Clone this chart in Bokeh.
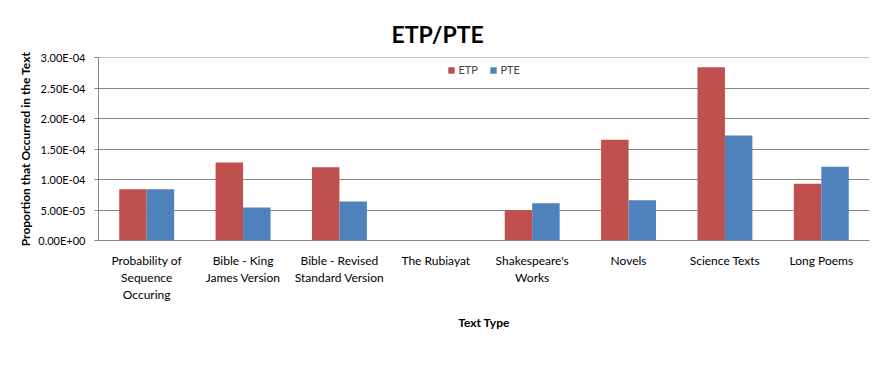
from bokeh.plotting import figure
from bokeh.models import (ColumnDataSource, FactorRange, Range1d, CustomJSTickFormatter,
                          SingleIntervalTicker, Legend, LegendItem, CategoricalAxis)
from bokeh.transform import dodge
from bokeh.embed import file_html
from bokeh.resources import INLINE

categories = ["Probability of Sequence Occuring", "Bible - King James Version",
              "Bible - Revised Standard Version", "The Rubiayat", "Shakespeare's Works",
              "Novels", "Science Texts", "Long Poems"]
# tick labels, one list per printed line
label_line1 = ["Probability of", "Bible - King", "Bible - Revised", "The Rubiayat",
               "Shakespeare's", "Novels", "Science Texts", "Long Poems"]
label_line2 = ["Sequence", "James Version", "Standard Version", "", "Works", "", "", ""]
label_line3 = ["Occuring", "", "", "", "", "", "", ""]
etp = [8.4e-5, 1.28e-4, 1.20e-4, 0.0, 5.0e-5, 1.65e-4, 2.84e-4, 9.3e-5]
pte = [8.4e-5, 5.4e-5, 6.4e-5, 0.0, 6.1e-5, 6.6e-5, 1.72e-4, 1.21e-4]

FONT = "Lato"
RED = "#C0504D"
BLUE = "#4F81BD"
GRID = "#868686"

src = ColumnDataSource(dict(cat=categories, etp=etp, pte=pte))

p = figure(x_range=FactorRange(*categories), y_range=Range1d(0, 3.00001e-4),
           frame_width=771, frame_height=183, title="ETP/PTE",
           min_border_left=98, min_border_right=10, min_border_top=57, min_border_bottom=4,
           output_backend="svg", toolbar_location=None)

r1 = p.vbar(x=dodge("cat", -0.1425, range=p.x_range), top="etp", width=0.285, source=src,
            fill_color=RED, line_color=None)
r2 = p.vbar(x=dodge("cat", 0.1425, range=p.x_range), top="pte", width=0.285, source=src,
            fill_color=BLUE, line_color=None)

p.title.align = "left"
p.title.offset = 293
p.title.standoff = 20
p.title.text_font = FONT
p.title.text_font_size = "23px"
p.title.text_font_style = "bold"
p.title.text_color = "#000000"

p.outline_line_color = None
p.xgrid.grid_line_color = None
p.ygrid.grid_line_color = GRID
p.ygrid.grid_line_width = 1

p.yaxis.ticker = SingleIntervalTicker(interval=5e-5)
p.yaxis.formatter = CustomJSTickFormatter(code="""
const s = tick.toExponential(2).toUpperCase();
const parts = s.split('E');
let e = parts[1];
const sign = e[0];
let d = e.slice(1);
if (d.length < 2) d = '0' + d;
return parts[0] + 'E' + sign + d;
""")
p.yaxis.axis_label = "Proportion that Occurred in the Text"
p.yaxis.axis_label_text_font = FONT
p.yaxis.axis_label_text_font_size = "12px"
p.yaxis.axis_label_text_font_style = "bold"
p.yaxis.axis_label_text_color = "#000000"
p.yaxis.axis_label_standoff = 2
p.yaxis.major_label_text_font = FONT
p.yaxis.major_label_text_font_size = "11px"
p.yaxis.major_label_text_color = "#000000"
p.yaxis.major_tick_out = 4
p.yaxis.major_tick_in = 0
p.yaxis.minor_tick_line_color = None
p.yaxis.axis_line_color = GRID
p.yaxis.major_tick_line_color = GRID
p.yaxis.major_label_standoff = 9

def line_formatter(lines):
    return CustomJSTickFormatter(args=dict(cats=categories, lines=lines),
                                 code="const i = cats.indexOf(tick); return i >= 0 ? lines[i] : '';")

def style_x(ax, standoff):
    ax.major_label_text_font = FONT
    ax.major_label_text_font_size = "12px"
    ax.major_label_text_color = "#000000"
    ax.major_label_standoff = standoff
    ax.major_tick_out = 0
    ax.major_tick_in = 0
    ax.major_tick_line_color = None
    ax.minor_tick_line_color = None

xa1 = p.xaxis[0]
style_x(xa1, 12)
xa1.axis_line_color = GRID
xa1.formatter = line_formatter(label_line1)

xa2 = CategoricalAxis(formatter=line_formatter(label_line2), axis_line_color=None)
style_x(xa2, -1)
p.add_layout(xa2, "below")

xa3 = CategoricalAxis(formatter=line_formatter(label_line3), axis_line_color=None)
style_x(xa3, -1)
xa3.axis_label = "Text Type"
xa3.axis_label_text_font = FONT
xa3.axis_label_text_font_size = "12px"
xa3.axis_label_text_font_style = "bold"
xa3.axis_label_text_color = "#000000"
xa3.axis_label_standoff = 10
p.add_layout(xa3, "below")

legend = Legend(items=[LegendItem(label="ETP", renderers=[r1]), LegendItem(label="PTE", renderers=[r2])],
                orientation="horizontal", location="top_center",
                label_text_font=FONT, label_text_font_size="11px",
                glyph_width=8, glyph_height=8, label_height=12, spacing=10, label_standoff=4,
                border_line_color=None, background_fill_color="#ffffff", background_fill_alpha=1,
                margin=6, padding=4)
p.add_layout(legend, "center")

open("out.html", "w").write(file_html(p, INLINE))
